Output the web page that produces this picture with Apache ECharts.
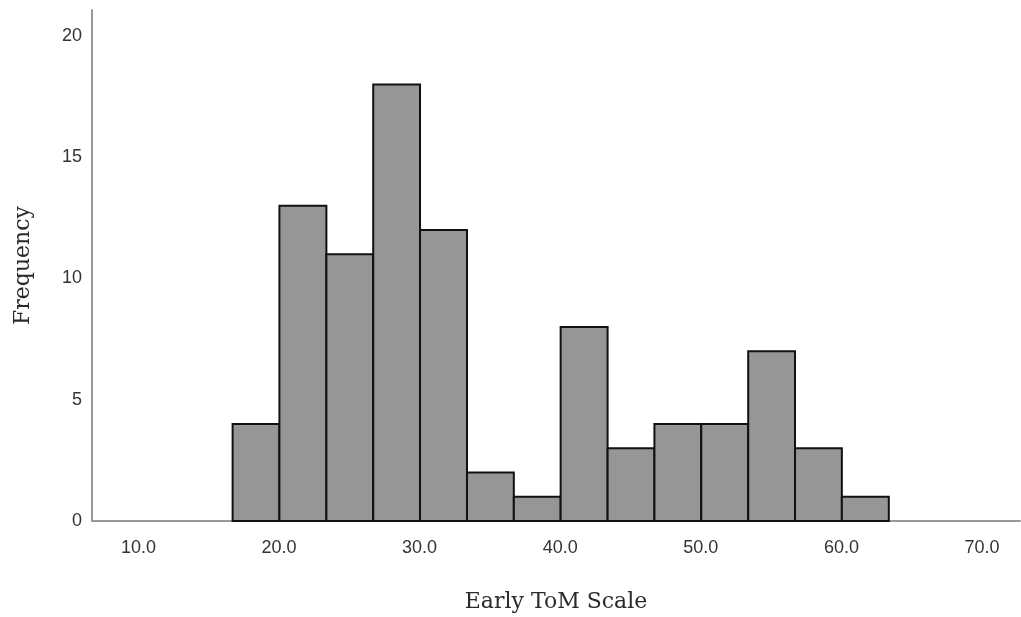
<!DOCTYPE html>
<html>
<head>
<meta charset="utf-8">
<script src="https://cdn.jsdelivr.net/npm/echarts@6/dist/echarts.min.js"></script>
<style>html,body{margin:0;padding:0;background:#fff}#c{width:1021px;height:617px}</style>
</head>
<body>
<div id="c"></div>
<script>
// Histogram bin edges (Early ToM Scale)
const binEdges = [16.7, 20.03, 23.37, 26.7, 30.03, 33.37, 36.7, 40.03, 43.37, 46.7, 50.03, 53.37, 56.7, 60.03, 63.37];
// Frequencies per bin
const frequencies = [4, 13, 11, 18, 12, 2, 1, 8, 3, 4, 4, 7, 3, 1];
// Tick labels
const xTicks = [10, 20, 30, 40, 50, 60, 70];
const yTicks = [0, 5, 10, 15, 20];

const data = frequencies.map((f, i) => [binEdges[i], binEdges[i + 1], f]);

const chart = echarts.init(document.getElementById('c'), null, {renderer: 'canvas'});
chart.setOption({
  animation: false,
  backgroundColor: '#fff',
  grid: {left: 92, right: 1, top: 10, bottom: 96, containLabel: false, outerBoundsMode: 'none'},
  xAxis: {
    type: 'value', min: 6.7, max: 72.7,
    name: 'Early ToM Scale', nameLocation: 'middle', nameGap: 70,
    nameTextStyle: {fontFamily: 'DejaVu Serif', fontSize: 22, color: '#2a2a2a'},
    axisLine: {show: true, lineStyle: {color: '#999', width: 2}},
    axisTick: {show: false},
    splitLine: {show: false},
    axisLabel: {customValues: xTicks, formatter: v => v.toFixed(1), fontFamily: 'Liberation Sans', fontSize: 18, color: '#333', margin: 18}
  },
  yAxis: {
    type: 'value', min: 0, max: 21.07,
    name: 'Frequency', nameLocation: 'middle', nameGap: 58, nameRotate: 90,
    nameTextStyle: {fontFamily: 'DejaVu Serif', fontSize: 22, color: '#2a2a2a'},
    axisLine: {show: true, lineStyle: {color: '#999', width: 2}},
    axisTick: {show: false},
    splitLine: {show: false},
    axisLabel: {customValues: yTicks, fontFamily: 'Liberation Sans', fontSize: 18, color: '#333', margin: 10}
  },
  series: [{
    type: 'custom',
    data: data,
    encode: {x: [0, 1], y: 2},
    renderItem: function (params, api) {
      const p0 = api.coord([api.value(0), api.value(2)]);
      const p1 = api.coord([api.value(1), 0]);
      return {
        type: 'rect',
        shape: {x: p0[0], y: p0[1], width: p1[0] - p0[0], height: p1[1] - p0[1]},
        style: {fill: '#969696', stroke: '#111', lineWidth: 2}
      };
    }
  }]
});
</script>
</body>
</html>
